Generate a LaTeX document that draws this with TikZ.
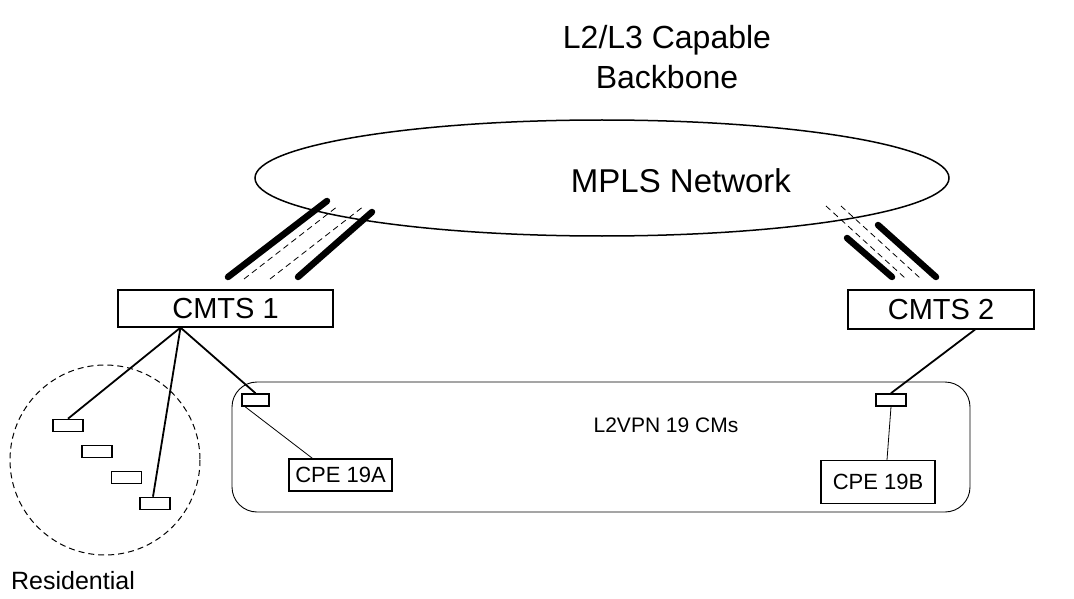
\documentclass[tikz,border=0pt]{standalone}
\usepackage{fontspec}
\setmainfont{Liberation Sans}
\usepackage{tikz}
\usetikzlibrary{calc}

\tikzset{
	box/.style={draw,line width=1.2pt,inner sep=0pt},
	modem/.style={draw,line width=1.6pt,inner sep=0pt,minimum width=30pt,minimum height=12pt},
	link/.style={line width=1.8pt},
	trunk/.style={line width=6.5pt,line cap=round},
	tunnel/.style={line width=0.8pt,dash pattern=on 6pt off 4pt}
}

\begin{document}
\begin{tikzpicture}[x=1pt,y=-1pt]
	\useasboundingbox (0,0) rectangle (1074,599);
	\node[font=\fontsize{32}{40}\selectfont,align=center] (bbtext) at (667,57) {L2/L3 Capable\\Backbone};
	\draw[line width=1.5pt] (602,178) ellipse (347 and 58);
	\node[font=\fontsize{33}{36}\selectfont] (mpls) at (681,181) {MPLS Network};
	
	\draw[tunnel] (244,279)--(338,206) (270,279)--(364,206);
	\draw[trunk] (228,277)--(327,201) (298,277)--(372,212);
	\draw[tunnel] (826,206)--(905,278) (841,206)--(920,278);
	\draw[trunk] (847,238)--(892,277) (878,225)--(936,277);
	
	\node[box,minimum width=215pt,minimum height=37pt,font=\fontsize{29}{30}\selectfont] (cmts1) at (225.5,308.5) {CMTS 1};
	\node[box,minimum width=186pt,minimum height=39pt,font=\fontsize{29}{30}\selectfont] (cmts2) at (941,309.5) {CMTS 2};
	
	\draw[line width=0.9pt,rounded corners=25pt] (232,382) rectangle (970,512);
	\node[font=\fontsize{21}{24}\selectfont] (l2vpn) at (666,425) {L2VPN 19 CMs};
	\draw[line width=1pt,dash pattern=on 6pt off 4pt] (105,460) circle (95);
	\node[font=\fontsize{25}{28}\selectfont] (res) at (73,581) {Residential};
	
	\foreach \n/\p in {1/{(68,425.5)},2/{(97,451.5)},3/{(126.5,477.5)},4/{(155,503.5)}}
		\node[modem] (res\n) at \p {};
	\node[modem,minimum width=27pt] (cmA) at (255.5,400) {};
	\node[modem] (cmB) at (891,400) {};
	\node[box,minimum width=103pt,minimum height=32pt,font=\fontsize{22}{24}\selectfont] (cpeA) at (340.5,475) {CPE 19A};
	\node[box,minimum width=114pt,minimum height=43pt,font=\fontsize{22}{24}\selectfont] (cpeB) at (878,482) {CPE 19B};
	
	\coordinate (c1) at ([xshift=-45pt]cmts1.south);
	\coordinate (c2) at ([xshift=34pt]cmts2.south);
	\draw[link] (c1)--(res1.north) (c1)--([xshift=-2pt]res4.north) (c1)--(cmA.north);
	\draw[link] (c2)--(cmB.north);
	\draw[line width=0.8pt] ([xshift=4pt]cmA.south west)--([xshift=-28pt]cpeA.north);
	\draw[line width=0.8pt] (cmB.south)--([xshift=9pt]cpeB.north);
\end{tikzpicture}
\end{document}
